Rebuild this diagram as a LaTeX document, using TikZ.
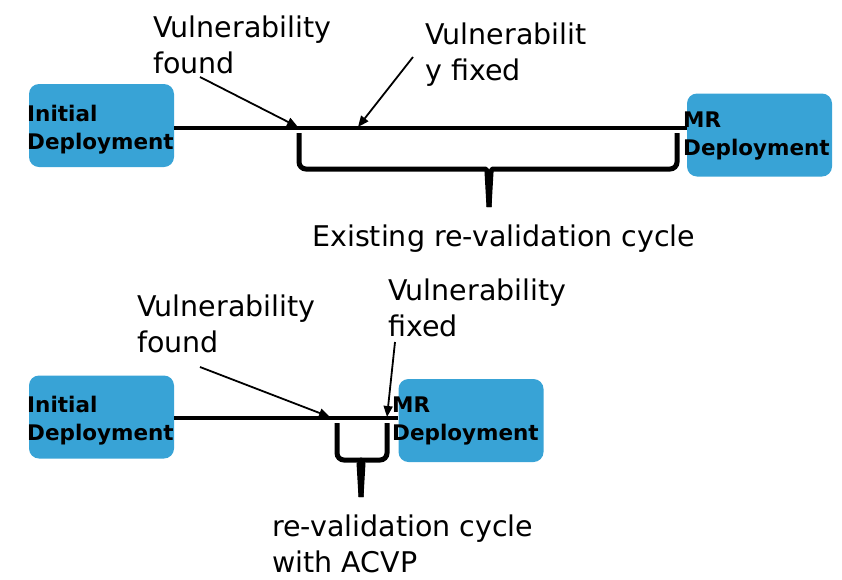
\documentclass[tikz,border=0pt]{standalone}
\usepackage{fontspec}
\setmainfont{DejaVu Sans}
\usetikzlibrary{arrows.meta,positioning}
\definecolor{deployblue}{RGB}{56,163,214}

\begin{document}
\begin{tikzpicture}[x=1pt,y=-1pt,
  deploy/.style={fill=deployblue,rounded corners=10pt,minimum width=145pt,
    minimum height=83pt,inner sep=0pt},
  deploylbl/.style={anchor=base west,inner sep=0pt,align=left,
    font=\fontsize{21.5}{28}\selectfont\bfseries},
  lbl/.style={anchor=base west,inner sep=0pt,align=left,
    font=\fontsize{28.5}{36}\selectfont},
  timeline/.style={line width=3.2pt},
  pointer/.style={-{Triangle[length=11pt,width=9pt]},line width=1.8pt},
  bracket/.style={line width=5pt,rounded corners=7pt}
]
  \useasboundingbox (0,0) rectangle (842,579);
  % Existing cycle
  \node[deploy] (init1) at (101.5,125.5) {};
  \node[deploy] (mr1) at (759.5,135) {};
  \coordinate (t1) at (0,128);
  \draw[timeline] (init1.east |- t1) -- (mr1.west |- t1);
  \node[deploylbl] (init1 lbl) at (27,149) {Initial\\Deployment};
  \node[deploylbl] (mr1 lbl) at (683,155) {MR\\Deployment};
  \node[lbl] (found1) at (153,73) {Vulnerability\\found};
  \node[lbl] (fixed1) at (425,80) {Vulnerabilit\\y fixed};
  \node[lbl] (cycle1) at (312,246) {Existing re-validation cycle};
  \coordinate (found1 tail) at (200,77);
  \coordinate (found1 head) at (298,127);
  \coordinate (fixed1 tail) at (413,57);
  \coordinate (fixed1 head) at (358,127);
  \draw[pointer] (found1 tail) -- (found1 head);
  \draw[pointer] (fixed1 tail) -- (fixed1 head);
  \draw[bracket] (299,133) -- (299,169) -- (478,169)
    .. controls (486,169) and (489,173) .. (489,182) -- (489,207);
  \draw[bracket] (677,133) -- (677,169) -- (500,169)
    .. controls (492,169) and (489,173) .. (489,182);
  \fill (484.5,172) -- (493.5,172) -- (491.5,207) -- (486.5,207) -- cycle;
  % Cycle with ACVP
  \node[deploy] (init2) at (101.5,417) {};
  \node[deploy] (mr2) at (471,420.5) {};
  \coordinate (t2) at (0,418);
  \draw[timeline] (init2.east |- t2) -- (mr2.west |- t2);
  \node[deploylbl] (init2 lbl) at (27,440) {Initial\\Deployment};
  \node[deploylbl] (mr2 lbl) at (392,440) {MR\\Deployment};
  \node[lbl] (found2) at (137,352) {Vulnerability\\found};
  \node[lbl] (fixed2) at (388,336) {Vulnerability\\fixed};
  \node[lbl] (cycle2) at (272,572) {re-validation cycle\\with ACVP};
  \coordinate (found2 tail) at (200,367);
  \coordinate (found2 head) at (330,417);
  \coordinate (fixed2 tail) at (395,342);
  \coordinate (fixed2 head) at (387,417);
  \draw[pointer] (found2 tail) -- (found2 head);
  \draw[pointer] (fixed2 tail) -- (fixed2 head);
  \draw[bracket] (337,423) -- (337,460) -- (352,460)
    .. controls (358,460) and (361,463) .. (361,470) -- (361,497);
  \draw[bracket] (387,423) -- (387,460) -- (370,460)
    .. controls (364,460) and (361,463) .. (361,470);
  \fill (356.5,463) -- (365.5,463) -- (363.5,497) -- (358.5,497) -- cycle;
\end{tikzpicture}
\end{document}
